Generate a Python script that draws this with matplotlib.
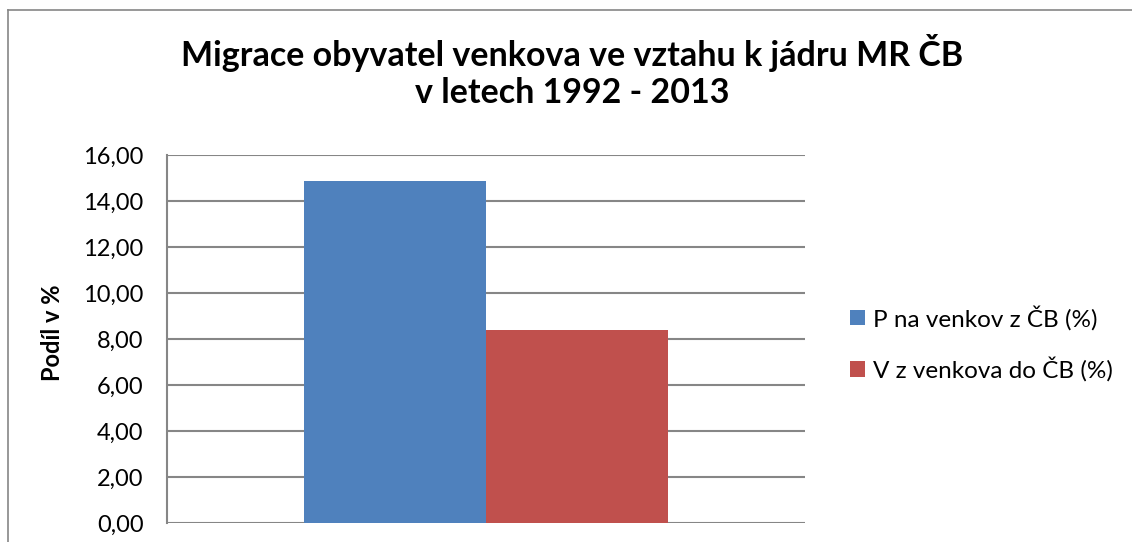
import matplotlib.pyplot as plt

plt.rcParams['font.family'] = ['Lato', 'DejaVu Sans']

# data
series_names = ["P na venkov z ČB (%)", "V z venkova do ČB (%)"]
values = [14.88, 8.39]
colors = ["#4f81bd", "#c0504d"]
y_ticks = [0, 2, 4, 6, 8, 10, 12, 14, 16]

W, H = 1132, 542
fig = plt.figure(figsize=(W / 100, H / 100), dpi=100)
ax = fig.add_axes([167 / W, 19 / H, 638 / W, 368 / H])

width = 0.285
offsets = [-width / 2, width / 2]
for name, val, col, off in zip(series_names, values, colors, offsets):
    ax.bar(off, val, width=width, color=col, label=name, zorder=3)

ax.set_xlim(-0.5, 0.5)
ax.set_ylim(0, 16)
ax.set_yticks(y_ticks)
ax.set_yticklabels([f"{t:.2f}".replace(".", ",") for t in y_ticks], fontsize=17)
ax.set_xticks([])
ax.tick_params(axis="y", length=0, pad=17)
ax.grid(axis="y", color="#868686", linewidth=1.5, zorder=0)
for s in ["top", "right", "bottom"]:
    ax.spines[s].set_visible(False)
ax.spines["left"].set_color("#868686")
ax.spines["left"].set_linewidth(1.5)

fig.text(52 / W, 1 - 333 / H, "Podíl v %", rotation=90, fontsize=17,
         fontweight="bold", ha="center", va="center")

fig.text(572 / W, 1 - 66 / H, "Migrace obyvatel venkova ve vztahu k jádru MR ČB",
         fontsize=24.5, fontweight="bold", ha="center", va="baseline")
fig.text(572 / W, 1 - 103 / H, "v letech 1992 - 2013",
         fontsize=24.5, fontweight="bold", ha="center", va="baseline")

ax.legend(loc="center left", bbox_to_anchor=(840 / W, 1 - 343.5 / H),
          bbox_transform=fig.transFigure, frameon=False, fontsize=17.5,
          handlelength=0.62, handleheight=0.62, handletextpad=0.33,
          labelspacing=1.1, borderpad=0.4, borderaxespad=0)

# chart border (left and top visible)
fig.add_artist(plt.Line2D([8 / W, 8 / W], [0, 1 - 10 / H],
                          color="#868686", linewidth=1.2, transform=fig.transFigure))
fig.add_artist(plt.Line2D([8 / W, 1], [1 - 10 / H, 1 - 10 / H],
                          color="#868686", linewidth=1.2, transform=fig.transFigure))

fig.savefig("out.png", dpi=100)
